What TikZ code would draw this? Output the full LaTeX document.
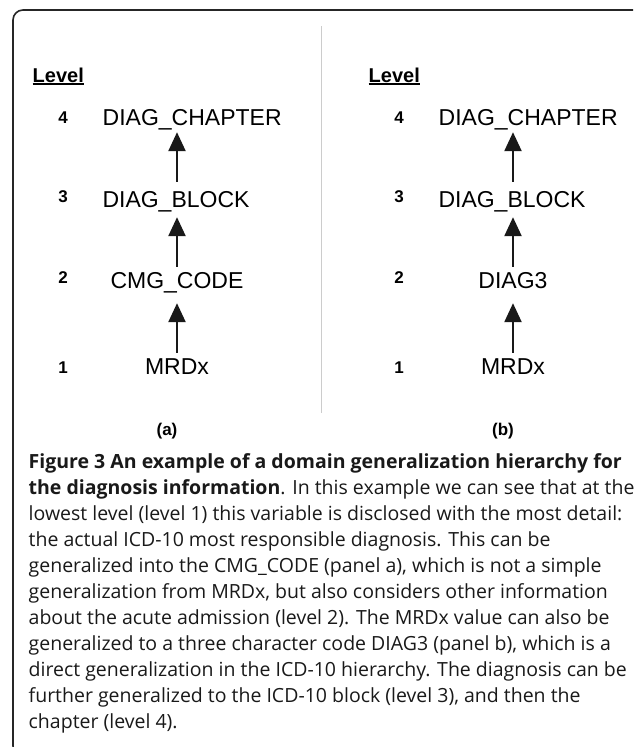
\documentclass[tikz,border=0pt]{standalone}
\usepackage{fontspec}
\setmainfont{Liberation Sans}
\newfontfamily\capfont{Open Sans}
\usetikzlibrary{arrows.meta}

\begin{document}
\begin{tikzpicture}[x=1pt,y=-1pt,
  lbl/.style={inner sep=0pt, text height=16.5pt, text depth=0pt, font=\fontsize{23}{23}\selectfont},
  lvnum/.style={inner sep=0pt, anchor=base, font=\bfseries\fontsize{17}{17}\selectfont},
  lvhead/.style={inner sep=0pt, anchor=base west, font=\bfseries\fontsize{20}{20}\selectfont},
  panel/.style={inner sep=0pt, anchor=base, font=\bfseries\fontsize{17}{17}\selectfont},
  gen/.style={-{Triangle[length=19pt,width=17pt]}, line width=2.4pt, draw=black!90},
  capline/.style={inner sep=0pt, anchor=base west, font=\capfont\fontsize{19.5}{19.5}\selectfont, text=black!90},
  uline/.style={line width=1.5pt},
]
\useasboundingbox (0,0) rectangle (633,747);
\clip (0,0) rectangle (633,747);

% outer frame and panel divider
\draw[line width=1.6pt, black!85, rounded corners=10pt] (13,10) rectangle (643,756);
\draw[black!20, line width=0.8pt] (321,26) -- (321,413);

% ---- panel (a) ----
\node[lvhead] (levA) at (32.5,82) {Level};
\draw[uline] ([yshift=-2pt]levA.base west) -- ([yshift=-2pt]levA.base east);
\node[lvnum] (n4A) at (63,123) {4};
\node[lvnum] (n3A) at (63,202) {3};
\node[lvnum] (n2A) at (63,283) {2};
\node[lvnum] (n1A) at (63,373) {1};

\node[lbl, anchor=base west] (chapA) at (102.5,125) {DIAG\_CHAPTER};
\node[lbl, anchor=base] (blockA) at (176,207) {DIAG\_BLOCK};
\node[lbl, anchor=base] (cmgA) at (177,288) {CMG\_CODE};
\node[lbl, anchor=base] (mrdxA) at (177,374) {MRDx};

\draw[gen, shorten <=4.5pt, shorten >=15pt] (mrdxA.north) -- (cmgA.south);
\draw[gen, shorten <=4.5pt, shorten >=10pt] (cmgA.north) -- (cmgA.north |- blockA.south);
\draw[gen, shorten <=8.5pt, shorten >=7pt] (cmgA.north |- blockA.north) -- (cmgA.north |- chapA.south);

\node[panel] (pa) at (167,435) {(a)};

% ---- panel (b) ----
\node[lvhead] (levB) at (368.5,82) {Level};
\draw[uline] ([yshift=-2pt]levB.base west) -- ([yshift=-2pt]levB.base east);
\node[lvnum] (n4B) at (399,123) {4};
\node[lvnum] (n3B) at (399,202) {3};
\node[lvnum] (n2B) at (399,283) {2};
\node[lvnum] (n1B) at (399,373) {1};

\node[lbl, anchor=base west] (chapB) at (438.5,125) {DIAG\_CHAPTER};
\node[lbl, anchor=base] (blockB) at (512,207) {DIAG\_BLOCK};
\node[lbl, anchor=base] (diagB) at (513,288) {DIAG3};
\node[lbl, anchor=base] (mrdxB) at (513,374) {MRDx};

\draw[gen, shorten <=4.5pt, shorten >=15pt] (mrdxB.north) -- (diagB.south);
\draw[gen, shorten <=4.5pt, shorten >=10pt] (diagB.north) -- (diagB.north |- blockB.south);
\draw[gen, shorten <=8.5pt, shorten >=7pt] (diagB.north |- blockB.north) -- (diagB.north |- chapB.south);

\node[panel] (pb) at (503,435) {(b)};

% ---- caption ----
\node[capline] (c1) at (28.5,468) {\bfseries Figure 3 An example of a domain generalization hierarchy for};
\node[capline] (c2) at (28.5,494) {\textbf{the diagnosis information}. In this example we can see that at the};
\node[capline] (c3) at (28.5,520) {lowest level (level 1) this variable is disclosed with the most detail:};
\node[capline] (c4) at (28.5,546) {the actual ICD-10 most responsible diagnosis. This can be};
\node[capline] (c5) at (28.5,572) {generalized into the CMG\_CODE (panel a), which is not a simple};
\node[capline] (c6) at (28.5,598) {generalization from MRDx, but also considers other information};
\node[capline] (c7) at (28.5,624) {about the acute admission (level 2). The MRDx value can also be};
\node[capline] (c8) at (28.5,650) {generalized to a three character code DIAG3 (panel b), which is a};
\node[capline] (c9) at (28.5,676) {direct generalization in the ICD-10 hierarchy. The diagnosis can be};
\node[capline] (c10) at (28.5,702) {further generalized to the ICD-10 block (level 3), and then the};
\node[capline] (c11) at (28.5,728) {chapter (level 4).};
\end{tikzpicture}
\end{document}
